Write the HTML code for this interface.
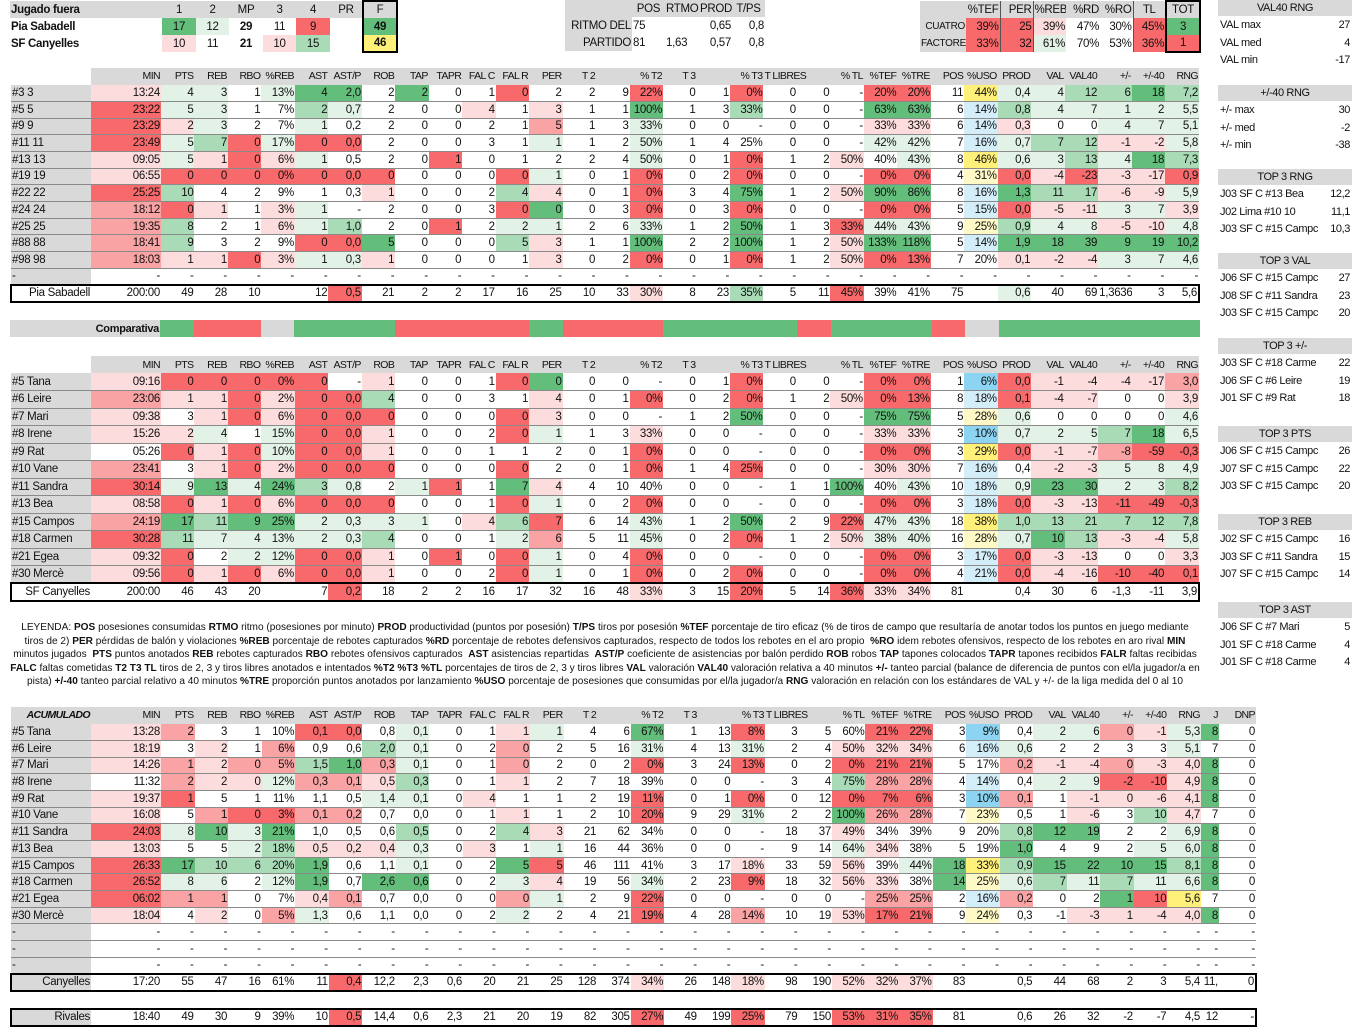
<!DOCTYPE html>
<html><head><meta charset="utf-8"><style>
body{margin:0;width:1366px;height:1025px;background:#fff;position:relative;overflow:hidden;font-family:"Liberation Sans Narrow","Liberation Sans",sans-serif;font-size:11.5px;color:#111;letter-spacing:-0.3px}
table{border-collapse:collapse;table-layout:fixed;position:absolute}
td{padding:0 1px;text-align:right;white-space:nowrap;overflow:hidden;line-height:14px}
.t tr{height:16.7px}
.t tr td{border-bottom:1px solid #8a8a8a}
.t tr td:first-child{text-align:left;background:#d9d9d9}
.t tr.h td{background:#d9d9d9;border-bottom:none;text-align:right;font-size:10.5px;letter-spacing:-0.6px}
.t tr.h td:first-child{background:#fff}
.t tr.tot{border:2px solid #000}
.t tr.tot td:first-child{text-align:right;background:#fff}
.G{background:#63be7b}.g{background:#a9dbb7}.l{background:#e2f2e6}
.R{background:#f8696b}.r{background:#f9a3a5}.p{background:#fcdcdd}
.Y{background:#fff07a}.y{background:#fff9c8}.B{background:#8dd4f2}.b{background:#d4eef9}
.gr{background:#d9d9d9}
.rp{position:absolute;left:1218px;width:134px;font-size:11px;letter-spacing:-0.4px}
.rp .hd{background:#d9d9d9;text-align:center;height:16px;line-height:16px;margin-bottom:1px}
.rp .rw{height:17.5px;line-height:17.5px;display:flex;justify-content:space-between;padding:0 2px;white-space:nowrap;overflow:hidden}
.leg{position:absolute;left:10px;width:1190px;top:621px;text-align:center;font-size:10.1px;line-height:13.5px;white-space:nowrap;letter-spacing:0;font-family:"Liberation Sans Narrow","Liberation Sans",sans-serif}
</style></head><body>

<table style="left:10px;top:0;width:387px">
<colgroup><col style="width:152px"><col style="width:34px"><col style="width:33px"><col style="width:34px"><col style="width:33px"><col style="width:34px"><col style="width:33px"><col style="width:34px"></colgroup>
<tr style="height:17px" class="gr"><td style="text-align:left;font-weight:bold">Jugado fuera</td><td style="text-align:center">1</td><td style="text-align:center">2</td><td style="text-align:center">MP</td><td style="text-align:center">3</td><td style="text-align:center">4</td><td style="text-align:center">PR</td><td style="text-align:center;border:2px solid #000;border-bottom:none">F</td></tr>
<tr style="height:17px"><td style="text-align:left;font-weight:bold">Pia Sabadell</td><td class="G" style="text-align:center">17</td><td class="l" style="text-align:center">12</td><td style="text-align:center;font-weight:bold">29</td><td style="text-align:center">11</td><td class="R" style="text-align:center">9</td><td></td><td class="G" style="text-align:center;font-weight:bold;border-left:2px solid #000;border-right:2px solid #000">49</td></tr>
<tr style="height:17px"><td style="text-align:left;font-weight:bold">SF Canyelles</td><td class="p" style="text-align:center">10</td><td style="text-align:center">11</td><td style="text-align:center;font-weight:bold">21</td><td class="p" style="text-align:center">10</td><td class="g" style="text-align:center">15</td><td></td><td class="Y" style="text-align:center;font-weight:bold;border:2px solid #000;border-top:none">46</td></tr>
</table>

<table style="left:565px;top:0;width:200px">
<colgroup><col style="width:67px"><col style="width:33px"><col style="width:34px"><col style="width:33px"><col style="width:33px"></colgroup>
<tr style="height:17px" class="gr"><td></td><td style="text-align:center">POS</td><td style="text-align:center">RTMO</td><td style="text-align:center">PROD</td><td style="text-align:center">T/PS</td></tr>
<tr style="height:17px"><td class="gr">RITMO DEL</td><td style="text-align:left">75</td><td></td><td>0,65</td><td>0,8</td></tr>
<tr style="height:17px"><td class="gr">PARTIDO</td><td style="text-align:left">81</td><td style="text-align:left">1,63</td><td>0,57</td><td>0,8</td></tr>
</table>

<table style="left:920px;top:0;width:280px">
<colgroup><col style="width:46px"><col style="width:34px"><col style="width:33px"><col style="width:33px"><col style="width:34px"><col style="width:33px"><col style="width:33px"><col style="width:34px"></colgroup>
<tr style="height:17px" class="gr"><td></td><td style="border-right:1px solid #555">%TEF</td><td style="border-right:1px solid #555">PER</td><td>%REB</td><td>%RD</td><td>%RO</td><td style="text-align:center;border-left:1px solid #555">TL</td><td style="text-align:center;border:2px solid #000;border-bottom:none">TOT</td></tr>
<tr style="height:17px"><td class="gr" style="font-size:10px">CUATRO</td><td class="R" style="border-right:1px solid #555">39%</td><td class="R" style="border-right:1px solid #555">25</td><td class="p">39%</td><td>47%</td><td>30%</td><td class="R" style="border-left:1px solid #555">45%</td><td class="G" style="text-align:center;border-left:2px solid #000;border-right:2px solid #000">3</td></tr>
<tr style="height:17px"><td class="gr" style="font-size:10px">FACTORES</td><td class="R" style="border-right:1px solid #555">33%</td><td class="R" style="border-right:1px solid #555">32</td><td class="l">61%</td><td>70%</td><td>53%</td><td class="R" style="border-left:1px solid #555">36%</td><td class="R" style="text-align:center;border:2px solid #000;border-top:none">1</td></tr>
</table>

<div class="rp" style="top:0"><div class="hd">VAL40 RNG</div><div class="rw"><span>VAL max</span><span>27</span></div><div class="rw"><span>VAL med</span><span>4</span></div><div class="rw"><span>VAL min</span><span>-17</span></div></div>
<div class="rp" style="top:85px"><div class="hd">+/-40 RNG</div><div class="rw"><span>+/- max</span><span>30</span></div><div class="rw"><span>+/- med</span><span>-2</span></div><div class="rw"><span>+/- min</span><span>-38</span></div></div>
<div class="rp" style="top:169px"><div class="hd">TOP 3 RNG</div><div class="rw"><span>J03 SF C #13 Bea</span><span>12,2</span></div><div class="rw"><span>J02 Lima #10 10</span><span>11,1</span></div><div class="rw"><span>J03 SF C #15 Campc</span><span>10,3</span></div></div>
<div class="rp" style="top:253px"><div class="hd">TOP 3 VAL</div><div class="rw"><span>J06 SF C #15 Campc</span><span>27</span></div><div class="rw"><span>J08 SF C #11 Sandra</span><span>23</span></div><div class="rw"><span>J03 SF C #15 Campc</span><span>20</span></div></div>
<div class="rp" style="top:338px"><div class="hd">TOP 3 +/-</div><div class="rw"><span>J03 SF C #18 Carme</span><span>22</span></div><div class="rw"><span>J06 SF C #6 Leire</span><span>19</span></div><div class="rw"><span>J01 SF C #9 Rat</span><span>18</span></div></div>
<div class="rp" style="top:426px"><div class="hd">TOP 3 PTS</div><div class="rw"><span>J06 SF C #15 Campc</span><span>26</span></div><div class="rw"><span>J07 SF C #15 Campc</span><span>22</span></div><div class="rw"><span>J03 SF C #15 Campc</span><span>20</span></div></div>
<div class="rp" style="top:514px"><div class="hd">TOP 3 REB</div><div class="rw"><span>J02 SF C #15 Campc</span><span>16</span></div><div class="rw"><span>J03 SF C #11 Sandra</span><span>15</span></div><div class="rw"><span>J07 SF C #15 Campc</span><span>14</span></div></div>
<div class="rp" style="top:602px"><div class="hd">TOP 3 AST</div><div class="rw"><span>J06 SF C #7 Mari</span><span>5</span></div><div class="rw"><span>J01 SF C #18 Carme</span><span>4</span></div><div class="rw"><span>J01 SF C #18 Carme</span><span>4</span></div></div>

<table class="t" style="left:10px;top:68px;width:1190px">
<colgroup><col style="width:80px"><col style="width:70px"></colgroup>
<tr class="h"><td></td><td>MIN</td><td>PTS</td><td>REB</td><td>RBO</td><td>%REB</td><td>AST</td><td>AST/P</td><td>ROB</td><td>TAP</td><td>TAPR</td><td>FAL C</td><td>FAL R</td><td>PER</td><td>T 2</td><td></td><td>% T2</td><td>T 3</td><td></td><td>% T3</td><td style="overflow:visible">T LIBRES</td><td></td><td>% TL</td><td>%TEF</td><td>%TRE</td><td>POS</td><td>%USO</td><td>PROD</td><td>VAL</td><td>VAL40</td><td>+/-</td><td>+/-40</td><td>RNG</td></tr>
<tr><td>#3 3</td><td class="p">13:24</td><td class="l">4</td><td class="l">3</td><td>1</td><td class="l">13%</td><td class="G">4</td><td class="G">2,0</td><td>2</td><td class="G">2</td><td>0</td><td>1</td><td class="R">0</td><td>2</td><td>2</td><td>9</td><td class="R">22%</td><td>0</td><td>1</td><td class="R">0%</td><td>0</td><td>0</td><td>-</td><td class="R">20%</td><td class="R">20%</td><td>11</td><td class="Y">44%</td><td class="l">0,4</td><td class="l">4</td><td class="g">12</td><td class="g">6</td><td class="G">18</td><td class="g">7,2</td></tr>
<tr><td>#5 5</td><td class="R">23:22</td><td class="l">5</td><td class="l">3</td><td>1</td><td>7%</td><td class="g">2</td><td class="l">0,7</td><td>2</td><td>0</td><td>0</td><td class="p">4</td><td>1</td><td class="p">3</td><td>1</td><td>1</td><td class="G">100%</td><td>1</td><td>3</td><td class="g">33%</td><td>0</td><td>0</td><td>-</td><td class="G">63%</td><td class="G">63%</td><td>6</td><td class="b">14%</td><td class="g">0,8</td><td class="l">4</td><td class="l">7</td><td class="l">1</td><td class="l">2</td><td class="l">5,5</td></tr>
<tr><td>#9 9</td><td class="R">23:29</td><td class="p">2</td><td class="l">3</td><td>2</td><td>7%</td><td class="l">1</td><td>0,2</td><td>2</td><td>0</td><td>0</td><td>2</td><td>1</td><td class="r">5</td><td>1</td><td>3</td><td class="l">33%</td><td>0</td><td>0</td><td>-</td><td>0</td><td>0</td><td>-</td><td class="p">33%</td><td class="p">33%</td><td>6</td><td class="b">14%</td><td class="p">0,3</td><td>0</td><td>0</td><td class="l">4</td><td class="l">7</td><td class="l">5,1</td></tr>
<tr><td>#11 11</td><td class="R">23:49</td><td class="l">5</td><td class="g">7</td><td class="R">0</td><td class="l">17%</td><td class="R">0</td><td class="R">0,0</td><td>2</td><td>0</td><td>0</td><td>3</td><td>1</td><td class="l">1</td><td>1</td><td>2</td><td class="l">50%</td><td>1</td><td>4</td><td>25%</td><td>0</td><td>0</td><td>-</td><td class="l">42%</td><td class="l">42%</td><td>7</td><td class="b">16%</td><td class="l">0,7</td><td class="g">7</td><td class="g">12</td><td class="p">-1</td><td class="p">-2</td><td class="l">5,8</td></tr>
<tr><td>#13 13</td><td class="p">09:05</td><td class="l">5</td><td class="p">1</td><td class="R">0</td><td class="p">6%</td><td class="l">1</td><td>0,5</td><td>2</td><td>0</td><td class="R">1</td><td>0</td><td>1</td><td>2</td><td>2</td><td>4</td><td class="l">50%</td><td>0</td><td>1</td><td class="R">0%</td><td>1</td><td>2</td><td class="p">50%</td><td>40%</td><td class="l">43%</td><td>8</td><td class="Y">46%</td><td class="l">0,6</td><td class="l">3</td><td class="g">13</td><td class="l">4</td><td class="G">18</td><td class="g">7,3</td></tr>
<tr><td>#19 19</td><td class="p">06:55</td><td class="R">0</td><td class="R">0</td><td class="R">0</td><td class="R">0%</td><td class="R">0</td><td class="R">0,0</td><td class="R">0</td><td>0</td><td>0</td><td>0</td><td class="R">0</td><td class="l">1</td><td>0</td><td>1</td><td class="R">0%</td><td>0</td><td>2</td><td class="R">0%</td><td>0</td><td>0</td><td>-</td><td class="R">0%</td><td class="R">0%</td><td>4</td><td class="y">31%</td><td class="R">0,0</td><td class="p">-4</td><td class="R">-23</td><td class="p">-3</td><td class="p">-17</td><td class="R">0,9</td></tr>
<tr><td>#22 22</td><td class="R">25:25</td><td class="g">10</td><td>4</td><td>2</td><td>9%</td><td>1</td><td>0,3</td><td class="p">1</td><td>0</td><td>0</td><td>2</td><td class="g">4</td><td class="p">4</td><td>0</td><td>1</td><td class="R">0%</td><td>3</td><td>4</td><td class="G">75%</td><td>1</td><td>2</td><td class="p">50%</td><td class="G">90%</td><td class="G">86%</td><td>8</td><td class="b">16%</td><td class="G">1,3</td><td class="g">11</td><td class="g">17</td><td class="p">-6</td><td class="p">-9</td><td class="l">5,9</td></tr>
<tr><td>#24 24</td><td class="r">18:12</td><td class="R">0</td><td class="p">1</td><td>1</td><td class="p">3%</td><td class="l">1</td><td>-</td><td>2</td><td>0</td><td>0</td><td>3</td><td class="R">0</td><td class="G">0</td><td>0</td><td>3</td><td class="R">0%</td><td>0</td><td>3</td><td class="R">0%</td><td>0</td><td>0</td><td>-</td><td class="R">0%</td><td class="R">0%</td><td>5</td><td class="b">15%</td><td class="R">0,0</td><td class="p">-5</td><td class="p">-11</td><td class="l">3</td><td class="l">7</td><td class="p">3,9</td></tr>
<tr><td>#25 25</td><td class="r">19:35</td><td class="g">8</td><td>2</td><td>1</td><td class="p">6%</td><td class="l">1</td><td class="g">1,0</td><td>2</td><td>0</td><td class="R">1</td><td>2</td><td class="l">2</td><td class="l">1</td><td>2</td><td>6</td><td class="l">33%</td><td>1</td><td>2</td><td class="G">50%</td><td>1</td><td>3</td><td class="R">33%</td><td class="l">44%</td><td class="l">43%</td><td>9</td><td class="y">25%</td><td class="g">0,9</td><td class="l">4</td><td class="l">8</td><td class="p">-5</td><td class="p">-10</td><td class="l">4,8</td></tr>
<tr><td>#88 88</td><td class="r">18:41</td><td class="g">9</td><td>3</td><td>2</td><td>9%</td><td class="R">0</td><td class="R">0,0</td><td class="G">5</td><td>0</td><td>0</td><td>0</td><td class="g">5</td><td class="p">3</td><td>1</td><td>1</td><td class="G">100%</td><td>2</td><td>2</td><td class="G">100%</td><td>1</td><td>2</td><td class="p">50%</td><td class="G">133%</td><td class="G">118%</td><td>5</td><td class="b">14%</td><td class="G">1,9</td><td class="G">18</td><td class="G">39</td><td class="G">9</td><td class="G">19</td><td class="G">10,2</td></tr>
<tr><td>#98 98</td><td class="r">18:03</td><td class="p">1</td><td class="p">1</td><td class="R">0</td><td class="p">3%</td><td class="l">1</td><td class="l">0,3</td><td class="p">1</td><td>0</td><td>0</td><td>0</td><td>1</td><td class="p">3</td><td>0</td><td>2</td><td class="R">0%</td><td>0</td><td>1</td><td class="R">0%</td><td>1</td><td>2</td><td class="p">50%</td><td class="R">0%</td><td class="R">13%</td><td>7</td><td>20%</td><td class="p">0,1</td><td class="p">-2</td><td class="p">-4</td><td class="l">3</td><td class="l">7</td><td class="l">4,6</td></tr>
<tr><td>-</td><td>-</td><td>-</td><td>-</td><td>-</td><td>-</td><td>-</td><td>-</td><td>-</td><td>-</td><td>-</td><td>-</td><td>-</td><td>-</td><td>-</td><td>-</td><td>-</td><td>-</td><td>-</td><td>-</td><td>-</td><td>-</td><td>-</td><td>-</td><td>-</td><td>-</td><td>-</td><td>-</td><td>-</td><td>-</td><td>-</td><td>-</td><td>-</td></tr>
<tr class="tot"><td>Pia Sabadell</td><td>200:00</td><td>49</td><td>28</td><td>10</td><td></td><td>12</td><td class="R">0,5</td><td>21</td><td>2</td><td>2</td><td>17</td><td>16</td><td>25</td><td>10</td><td>33</td><td class="p">30%</td><td>8</td><td>23</td><td class="g">35%</td><td>5</td><td>11</td><td class="R">45%</td><td>39%</td><td>41%</td><td>75</td><td></td><td class="l">0,6</td><td>40</td><td>69</td><td>1,3636</td><td>3</td><td>5,6</td></tr>
</table>

<table style="left:10px;top:320px;width:1190px;height:17px">
<colgroup><col style="width:80px"><col style="width:70px"></colgroup>
<tr><td class="gr" colspan="2" style="font-weight:bold;font-size:11px">Comparativa</td><td class="G"></td><td class="R"></td><td class="R"></td><td class="gr"></td><td class="G"></td><td class="G"></td><td class="G"></td><td class="R"></td><td class="R"></td><td class="R"></td><td class="R"></td><td class="G"></td><td class="R"></td><td class="R"></td><td class="R"></td><td class="G"></td><td class="G"></td><td class="G"></td><td class="G"></td><td class="R"></td><td class="G"></td><td class="G"></td><td class="G"></td><td class="R"></td><td class="gr"></td><td class="G"></td><td class="G"></td><td class="G"></td><td class="G"></td><td class="G"></td><td class="G"></td></tr>
</table>

<table class="t" style="left:10px;top:356px;width:1190px">
<colgroup><col style="width:80px"><col style="width:70px"></colgroup>
<tr class="h" style="height:17px"><td></td><td>MIN</td><td>PTS</td><td>REB</td><td>RBO</td><td>%REB</td><td>AST</td><td>AST/P</td><td>ROB</td><td>TAP</td><td>TAPR</td><td>FAL C</td><td>FAL R</td><td>PER</td><td>T 2</td><td></td><td>% T2</td><td>T 3</td><td></td><td>% T3</td><td style="overflow:visible">T LIBRES</td><td></td><td>% TL</td><td>%TEF</td><td>%TRE</td><td>POS</td><td>%USO</td><td>PROD</td><td>VAL</td><td>VAL40</td><td>+/-</td><td>+/-40</td><td>RNG</td></tr>
<tr style="height:17.5px"><td>#5 Tana</td><td class="p">09:16</td><td class="R">0</td><td class="R">0</td><td class="R">0</td><td class="R">0%</td><td class="R">0</td><td>-</td><td class="p">1</td><td>0</td><td>0</td><td>1</td><td class="R">0</td><td class="G">0</td><td>0</td><td>0</td><td>-</td><td>0</td><td>1</td><td class="R">0%</td><td>0</td><td>0</td><td>-</td><td class="R">0%</td><td class="R">0%</td><td>1</td><td class="B">6%</td><td class="R">0,0</td><td class="p">-1</td><td class="p">-4</td><td class="p">-4</td><td class="p">-17</td><td class="r">3,0</td></tr>
<tr style="height:17.5px"><td>#6 Leire</td><td class="r">23:06</td><td class="p">1</td><td class="p">1</td><td class="R">0</td><td class="p">2%</td><td class="R">0</td><td class="R">0,0</td><td class="g">4</td><td>0</td><td>0</td><td>3</td><td>1</td><td class="p">4</td><td>0</td><td>1</td><td class="R">0%</td><td>0</td><td>2</td><td class="R">0%</td><td>1</td><td>2</td><td class="p">50%</td><td class="R">0%</td><td class="R">13%</td><td>8</td><td class="b">18%</td><td class="R">0,1</td><td class="p">-4</td><td class="p">-7</td><td>0</td><td>0</td><td class="p">3,9</td></tr>
<tr style="height:17.5px"><td>#7 Mari</td><td class="p">09:38</td><td>3</td><td class="p">1</td><td class="R">0</td><td class="p">6%</td><td class="R">0</td><td class="R">0,0</td><td class="R">0</td><td>0</td><td>0</td><td>0</td><td class="R">0</td><td class="p">3</td><td>0</td><td>0</td><td>-</td><td>1</td><td>2</td><td class="G">50%</td><td>0</td><td>0</td><td>-</td><td class="G">75%</td><td class="G">75%</td><td>5</td><td class="y">28%</td><td class="l">0,6</td><td>0</td><td>0</td><td>0</td><td>0</td><td class="l">4,6</td></tr>
<tr style="height:17.5px"><td>#8 Irene</td><td class="p">15:26</td><td class="p">2</td><td class="l">4</td><td>1</td><td class="l">15%</td><td class="R">0</td><td class="R">0,0</td><td class="p">1</td><td>0</td><td>0</td><td>2</td><td class="R">0</td><td class="l">1</td><td>1</td><td>3</td><td class="p">33%</td><td>0</td><td>0</td><td>-</td><td>0</td><td>0</td><td>-</td><td class="p">33%</td><td class="p">33%</td><td>3</td><td class="B">10%</td><td class="l">0,7</td><td class="l">2</td><td class="l">5</td><td class="g">7</td><td class="G">18</td><td class="l">6,5</td></tr>
<tr style="height:17.5px"><td>#9 Rat</td><td>05:26</td><td class="R">0</td><td class="p">1</td><td class="R">0</td><td class="l">10%</td><td class="R">0</td><td class="R">0,0</td><td class="p">1</td><td>0</td><td>0</td><td>1</td><td>1</td><td>2</td><td>0</td><td>1</td><td class="R">0%</td><td>0</td><td>0</td><td>-</td><td>0</td><td>0</td><td>-</td><td class="R">0%</td><td class="R">0%</td><td>3</td><td class="Y">29%</td><td class="R">0,0</td><td class="p">-1</td><td class="p">-7</td><td class="r">-8</td><td class="R">-59</td><td class="R">-0,3</td></tr>
<tr style="height:17.5px"><td>#10 Vane</td><td class="r">23:41</td><td>3</td><td class="p">1</td><td class="R">0</td><td class="p">2%</td><td class="R">0</td><td class="R">0,0</td><td class="R">0</td><td>0</td><td>0</td><td>0</td><td class="R">0</td><td>2</td><td>0</td><td>1</td><td class="R">0%</td><td>1</td><td>4</td><td class="R">25%</td><td>0</td><td>0</td><td>-</td><td class="p">30%</td><td class="p">30%</td><td>7</td><td class="b">16%</td><td>0,4</td><td class="p">-2</td><td class="p">-3</td><td class="l">5</td><td class="l">8</td><td class="l">4,9</td></tr>
<tr style="height:17.5px"><td>#11 Sandra</td><td class="R">30:14</td><td class="l">9</td><td class="G">13</td><td class="l">4</td><td class="G">24%</td><td class="g">3</td><td class="l">0,8</td><td>2</td><td class="l">1</td><td class="R">1</td><td>1</td><td class="G">7</td><td class="p">4</td><td>4</td><td>10</td><td>40%</td><td>0</td><td>0</td><td>-</td><td>1</td><td>1</td><td class="G">100%</td><td>40%</td><td class="l">43%</td><td>10</td><td class="b">18%</td><td class="l">0,9</td><td class="G">23</td><td class="G">30</td><td class="l">2</td><td class="l">3</td><td class="g">8,2</td></tr>
<tr style="height:17.5px"><td>#13 Bea</td><td class="p">08:58</td><td class="R">0</td><td class="p">1</td><td class="R">0</td><td class="p">6%</td><td class="R">0</td><td class="R">0,0</td><td class="R">0</td><td>0</td><td>0</td><td>1</td><td class="R">0</td><td class="l">1</td><td>0</td><td>2</td><td class="R">0%</td><td>0</td><td>0</td><td>-</td><td>0</td><td>0</td><td>-</td><td class="R">0%</td><td class="R">0%</td><td>3</td><td class="b">18%</td><td class="R">0,0</td><td class="p">-3</td><td class="p">-13</td><td class="R">-11</td><td class="R">-49</td><td class="R">-0,3</td></tr>
<tr style="height:17.5px"><td>#15 Campos</td><td class="r">24:19</td><td class="G">17</td><td class="g">11</td><td class="G">9</td><td class="G">25%</td><td class="l">2</td><td class="l">0,3</td><td class="l">3</td><td class="l">1</td><td>0</td><td class="p">4</td><td class="g">6</td><td class="R">7</td><td>6</td><td>14</td><td class="l">43%</td><td>1</td><td>2</td><td class="G">50%</td><td>2</td><td>9</td><td class="R">22%</td><td class="l">47%</td><td class="l">43%</td><td>18</td><td class="Y">38%</td><td class="g">1,0</td><td class="g">13</td><td class="g">21</td><td class="g">7</td><td class="g">12</td><td class="g">7,8</td></tr>
<tr style="height:17.5px"><td>#18 Carmen</td><td class="R">30:28</td><td class="g">11</td><td class="l">7</td><td class="l">4</td><td class="l">13%</td><td class="l">2</td><td class="l">0,3</td><td class="g">4</td><td>0</td><td>0</td><td>1</td><td class="l">2</td><td class="r">6</td><td>5</td><td>11</td><td class="l">45%</td><td>0</td><td>2</td><td class="R">0%</td><td>1</td><td>2</td><td class="p">50%</td><td class="l">38%</td><td class="l">40%</td><td>16</td><td class="y">28%</td><td class="l">0,7</td><td class="G">10</td><td class="g">13</td><td class="p">-3</td><td class="p">-4</td><td class="l">5,8</td></tr>
<tr style="height:17.5px"><td>#21 Egea</td><td class="p">09:32</td><td class="R">0</td><td>2</td><td class="l">2</td><td class="l">12%</td><td class="R">0</td><td class="R">0,0</td><td class="p">1</td><td>0</td><td class="R">1</td><td>0</td><td class="R">0</td><td class="l">1</td><td>0</td><td>4</td><td class="R">0%</td><td>0</td><td>0</td><td>-</td><td>0</td><td>0</td><td>-</td><td class="R">0%</td><td class="R">0%</td><td>3</td><td class="b">17%</td><td class="R">0,0</td><td class="p">-3</td><td class="p">-13</td><td>0</td><td>0</td><td class="p">3,3</td></tr>
<tr style="height:17.5px"><td>#30 Mercè</td><td class="p">09:56</td><td class="R">0</td><td class="p">1</td><td class="R">0</td><td class="p">6%</td><td class="R">0</td><td class="R">0,0</td><td class="p">1</td><td>0</td><td>0</td><td>2</td><td class="R">0</td><td class="l">1</td><td>0</td><td>1</td><td class="R">0%</td><td>0</td><td>2</td><td class="R">0%</td><td>0</td><td>0</td><td>-</td><td class="R">0%</td><td class="R">0%</td><td>4</td><td class="b">21%</td><td class="R">0,0</td><td class="p">-4</td><td class="p">-16</td><td class="R">-10</td><td class="R">-40</td><td class="R">0,1</td></tr>
<tr class="tot" style="height:17.5px"><td>SF Canyelles</td><td>200:00</td><td>46</td><td>43</td><td>20</td><td></td><td>7</td><td class="R">0,2</td><td>18</td><td>2</td><td>2</td><td>16</td><td>17</td><td>32</td><td>16</td><td>48</td><td class="p">33%</td><td>3</td><td>15</td><td class="R">20%</td><td>5</td><td>14</td><td class="R">36%</td><td class="p">33%</td><td class="p">34%</td><td>81</td><td></td><td>0,4</td><td>30</td><td>6</td><td>-1,3</td><td>-11</td><td>3,9</td></tr>
</table>

<div class="leg">LEYENDA: <b>POS</b> posesiones consumidas <b>RTMO</b> ritmo (posesiones por minuto) <b>PROD</b> productividad (puntos por posesión) <b>T/PS</b> tiros por posesión <b>%TEF</b> porcentaje de tiro eficaz (% de tiros de campo que resultaría de anotar todos los puntos en juego mediante<br>tiros de 2) <b>PER</b> pérdidas de balón y violaciones <b>%REB</b> porcentaje de rebotes capturados <b>%RD</b> porcentaje de rebotes defensivos capturados, respecto de todos los rebotes en el aro propio &nbsp;<b>%RO</b> idem rebotes ofensivos, respecto de los rebotes en aro rival <b>MIN</b><br>minutos jugados &nbsp;<b>PTS</b> puntos anotados <b>REB</b> rebotes capturados <b>RBO</b> rebotes ofensivos capturados &nbsp;<b>AST</b> asistencias repartidas &nbsp;<b>AST/P</b> coeficiente de asistencias por balón perdido <b>ROB</b> robos <b>TAP</b> tapones colocados <b>TAPR</b> tapones recibidos <b>FALR</b> faltas recibidas<br><b>FALC</b> faltas cometidas <b>T2 T3 TL</b> tiros de 2, 3 y tiros libres anotados e intentados <b>%T2 %T3 %TL</b> porcentajes de tiros de 2, 3 y tiros libres <b>VAL</b> valoración <b>VAL40</b> valoración relativa a 40 minutos <b>+/-</b> tanteo parcial (balance de diferencia de puntos con el/la jugador/a en<br>pista) <b>+/-40</b> tanteo parcial relativo a 40 minutos <b>%TRE</b> proporción puntos anotados por lanzamiento <b>%USO</b> porcentaje de posesiones que consumidas por el/la jugador/a <b>RNG</b> valoración en relación con los estándares de VAL y +/- de la liga medida del 0 al 10</div>

<table class="t" style="left:10px;top:707px;width:1245px">
<colgroup><col style="width:80px"><col style="width:70px"><col span="31" style="width:33.55px"><col style="width:18px"><col style="width:37px"></colgroup>
<tr class="h"><td style="background:#d9d9d9;font-weight:bold;font-style:italic">ACUMULADO</td><td>MIN</td><td>PTS</td><td>REB</td><td>RBO</td><td>%REB</td><td>AST</td><td>AST/P</td><td>ROB</td><td>TAP</td><td>TAPR</td><td>FAL C</td><td>FAL R</td><td>PER</td><td>T 2</td><td></td><td>% T2</td><td>T 3</td><td></td><td>% T3</td><td style="overflow:visible">T LIBRES</td><td></td><td>% TL</td><td>%TEF</td><td>%TRE</td><td>POS</td><td>%USO</td><td>PROD</td><td>VAL</td><td>VAL40</td><td>+/-</td><td>+/-40</td><td>RNG</td><td>J</td><td>DNP</td></tr>
<tr><td>#5 Tana</td><td class="p">13:28</td><td class="r">2</td><td>3</td><td>1</td><td>10%</td><td class="R">0,1</td><td class="R">0,0</td><td>0,8</td><td class="l">0,1</td><td>0</td><td>1</td><td class="p">1</td><td class="l">1</td><td>4</td><td>6</td><td class="G">67%</td><td>1</td><td>13</td><td class="R">8%</td><td>3</td><td>5</td><td>60%</td><td class="R">21%</td><td class="R">22%</td><td>3</td><td class="B">9%</td><td>0,4</td><td class="l">2</td><td class="l">6</td><td class="r">0</td><td class="p">-1</td><td class="l">5,3</td><td class="G">8</td><td>0</td></tr>
<tr><td>#6 Leire</td><td class="p">18:19</td><td>3</td><td class="p">2</td><td>1</td><td class="r">6%</td><td>0,9</td><td>0,6</td><td class="g">2,0</td><td class="l">0,1</td><td>0</td><td>2</td><td class="r">0</td><td>2</td><td>5</td><td>16</td><td class="l">31%</td><td>4</td><td>13</td><td class="l">31%</td><td>2</td><td>4</td><td class="p">50%</td><td class="p">32%</td><td class="p">34%</td><td>6</td><td class="b">16%</td><td class="l">0,6</td><td>2</td><td>2</td><td>3</td><td>3</td><td class="l">5,1</td><td>7</td><td>0</td></tr>
<tr><td>#7 Mari</td><td class="p">14:26</td><td class="r">1</td><td class="p">2</td><td class="r">0</td><td class="r">5%</td><td class="g">1,5</td><td class="G">1,0</td><td class="r">0,3</td><td class="l">0,1</td><td>0</td><td>1</td><td class="r">0</td><td>2</td><td>0</td><td>2</td><td class="R">0%</td><td>3</td><td>24</td><td class="R">13%</td><td>0</td><td>2</td><td class="R">0%</td><td class="R">21%</td><td class="R">21%</td><td>5</td><td>17%</td><td class="r">0,2</td><td class="p">-1</td><td class="p">-4</td><td class="r">0</td><td class="p">-3</td><td class="p">4,0</td><td class="G">8</td><td>0</td></tr>
<tr><td>#8 Irene</td><td>11:32</td><td class="r">2</td><td class="p">2</td><td class="p">0</td><td class="l">12%</td><td class="r">0,3</td><td class="r">0,1</td><td class="p">0,5</td><td class="g">0,3</td><td>0</td><td>1</td><td class="p">1</td><td>2</td><td>7</td><td>18</td><td>39%</td><td>0</td><td>0</td><td>-</td><td>3</td><td>4</td><td class="g">75%</td><td class="r">28%</td><td class="r">28%</td><td>4</td><td class="b">14%</td><td>0,4</td><td class="l">2</td><td class="l">9</td><td class="R">-2</td><td class="R">-10</td><td class="p">4,9</td><td class="G">8</td><td>0</td></tr>
<tr><td>#9 Rat</td><td class="p">19:37</td><td class="R">1</td><td>5</td><td>1</td><td>11%</td><td>1,1</td><td>0,5</td><td class="l">1,4</td><td class="l">0,1</td><td>0</td><td class="p">4</td><td>1</td><td>1</td><td>2</td><td>19</td><td class="R">11%</td><td>0</td><td>1</td><td class="R">0%</td><td>0</td><td>12</td><td class="R">0%</td><td class="R">7%</td><td class="R">6%</td><td>3</td><td class="B">10%</td><td class="r">0,1</td><td>1</td><td class="p">-1</td><td class="p">0</td><td class="p">-6</td><td class="p">4,1</td><td class="G">8</td><td>0</td></tr>
<tr><td>#10 Vane</td><td class="p">16:08</td><td>5</td><td class="r">1</td><td class="R">0</td><td class="R">3%</td><td class="r">0,1</td><td class="r">0,2</td><td>0,7</td><td>0,0</td><td>0</td><td>1</td><td class="p">1</td><td>1</td><td>2</td><td>10</td><td class="R">20%</td><td>9</td><td>29</td><td class="l">31%</td><td>2</td><td>2</td><td class="G">100%</td><td class="r">26%</td><td class="r">28%</td><td>7</td><td class="y">23%</td><td>0,5</td><td>1</td><td class="p">-6</td><td>3</td><td class="g">10</td><td class="p">4,7</td><td>7</td><td>0</td></tr>
<tr><td>#11 Sandra</td><td class="R">24:03</td><td class="l">8</td><td class="G">10</td><td class="l">3</td><td class="G">21%</td><td>1,0</td><td>0,5</td><td>0,6</td><td class="g">0,5</td><td>0</td><td>2</td><td class="g">4</td><td class="p">3</td><td>21</td><td>62</td><td>34%</td><td>0</td><td>0</td><td>-</td><td>18</td><td>37</td><td class="p">49%</td><td>34%</td><td>39%</td><td>9</td><td>20%</td><td class="g">0,8</td><td class="G">12</td><td class="G">19</td><td>2</td><td>2</td><td class="l">6,9</td><td class="G">8</td><td>0</td></tr>
<tr><td>#13 Bea</td><td class="p">13:03</td><td>5</td><td>5</td><td class="l">2</td><td class="g">18%</td><td class="p">0,5</td><td class="p">0,2</td><td class="p">0,4</td><td class="l">0,3</td><td>0</td><td class="p">3</td><td>1</td><td class="l">1</td><td>16</td><td>44</td><td>36%</td><td>0</td><td>0</td><td>-</td><td>9</td><td>14</td><td class="l">64%</td><td class="p">34%</td><td>38%</td><td>5</td><td>19%</td><td class="G">1,0</td><td>4</td><td>9</td><td>2</td><td class="l">5</td><td class="l">6,0</td><td class="G">8</td><td>0</td></tr>
<tr><td>#15 Campos</td><td class="R">26:33</td><td class="G">17</td><td class="g">10</td><td class="g">6</td><td class="g">20%</td><td class="G">1,9</td><td>0,6</td><td>1,1</td><td class="l">0,1</td><td>0</td><td>2</td><td class="G">5</td><td class="R">5</td><td>46</td><td>111</td><td>41%</td><td>3</td><td>17</td><td class="p">18%</td><td>33</td><td>59</td><td class="p">56%</td><td>39%</td><td class="l">44%</td><td class="G">18</td><td class="Y">33%</td><td class="g">0,9</td><td class="G">15</td><td class="G">22</td><td class="G">10</td><td class="G">15</td><td class="g">8,1</td><td class="G">8</td><td>0</td></tr>
<tr><td>#18 Carmen</td><td class="R">26:52</td><td class="l">8</td><td class="l">6</td><td>2</td><td class="l">12%</td><td class="G">1,9</td><td>0,7</td><td class="G">2,6</td><td class="G">0,6</td><td>0</td><td>2</td><td class="l">3</td><td class="p">4</td><td>19</td><td>56</td><td class="l">34%</td><td>2</td><td>23</td><td class="R">9%</td><td>18</td><td>32</td><td class="p">56%</td><td class="p">33%</td><td>38%</td><td class="G">14</td><td class="y">25%</td><td class="l">0,6</td><td class="g">7</td><td class="l">11</td><td class="g">7</td><td class="l">11</td><td class="l">6,6</td><td class="G">8</td><td>0</td></tr>
<tr><td>#21 Egea</td><td class="R">06:02</td><td class="r">1</td><td class="r">1</td><td>0</td><td>7%</td><td class="p">0,4</td><td class="r">0,1</td><td>0,7</td><td>0,0</td><td>0</td><td>0</td><td class="r">0</td><td class="l">1</td><td>2</td><td>9</td><td class="R">22%</td><td>0</td><td>0</td><td>-</td><td>0</td><td>0</td><td>-</td><td class="r">25%</td><td class="r">25%</td><td>2</td><td class="b">16%</td><td class="r">0,2</td><td>0</td><td>2</td><td class="G">1</td><td class="R">10</td><td class="Y">5,6</td><td>7</td><td>0</td></tr>
<tr><td>#30 Mercè</td><td class="p">18:04</td><td>4</td><td class="p">2</td><td>0</td><td class="r">5%</td><td class="l">1,3</td><td>0,6</td><td>1,1</td><td>0,0</td><td>0</td><td>2</td><td class="l">2</td><td>2</td><td>4</td><td>21</td><td class="R">19%</td><td>4</td><td>28</td><td class="r">14%</td><td>10</td><td>19</td><td class="p">53%</td><td class="R">17%</td><td class="R">21%</td><td>9</td><td class="y">24%</td><td>0,3</td><td>-1</td><td class="p">-3</td><td class="p">1</td><td class="p">-4</td><td class="p">4,0</td><td class="G">8</td><td>0</td></tr>
<tr><td>-</td><td>-</td><td>-</td><td>-</td><td>-</td><td>-</td><td>-</td><td>-</td><td>-</td><td>-</td><td>-</td><td>-</td><td>-</td><td>-</td><td>-</td><td>-</td><td>-</td><td>-</td><td>-</td><td>-</td><td>-</td><td>-</td><td>-</td><td>-</td><td>-</td><td>-</td><td>-</td><td>-</td><td>-</td><td>-</td><td>-</td><td>-</td><td>-</td><td>-</td><td>-</td></tr>
<tr><td>-</td><td>-</td><td>-</td><td>-</td><td>-</td><td>-</td><td>-</td><td>-</td><td>-</td><td>-</td><td>-</td><td>-</td><td>-</td><td>-</td><td>-</td><td>-</td><td>-</td><td>-</td><td>-</td><td>-</td><td>-</td><td>-</td><td>-</td><td>-</td><td>-</td><td>-</td><td>-</td><td>-</td><td>-</td><td>-</td><td>-</td><td>-</td><td>-</td><td>-</td><td>-</td></tr>
<tr><td>-</td><td>-</td><td>-</td><td>-</td><td>-</td><td>-</td><td>-</td><td>-</td><td>-</td><td>-</td><td>-</td><td>-</td><td>-</td><td>-</td><td>-</td><td>-</td><td>-</td><td>-</td><td>-</td><td>-</td><td>-</td><td>-</td><td>-</td><td>-</td><td>-</td><td>-</td><td>-</td><td>-</td><td>-</td><td>-</td><td>-</td><td>-</td><td>-</td><td>-</td><td>-</td></tr>
<tr class="tot"><td style="background:#d9d9d9">Canyelles</td><td>17:20</td><td>55</td><td>47</td><td>16</td><td>61%</td><td>11</td><td class="R">0,4</td><td>12,2</td><td>2,3</td><td>0,6</td><td>20</td><td>21</td><td>25</td><td>128</td><td>374</td><td class="p">34%</td><td>26</td><td>148</td><td class="p">18%</td><td>98</td><td>190</td><td class="p">52%</td><td class="p">32%</td><td class="p">37%</td><td>83</td><td></td><td>0,5</td><td>44</td><td>68</td><td>2</td><td>3</td><td>5,4</td><td>11,</td><td>0</td></tr>
</table>

<table class="t" style="left:10px;top:1008px;width:1245px">
<colgroup><col style="width:80px"><col style="width:70px"><col span="31" style="width:33.55px"><col style="width:18px"><col style="width:37px"></colgroup>
<tr class="tot"><td style="background:#d9d9d9">Rivales</td><td>18:40</td><td>49</td><td>30</td><td>9</td><td>39%</td><td>10</td><td class="R">0,5</td><td>14,4</td><td>0,6</td><td>2,3</td><td>21</td><td>20</td><td>19</td><td>82</td><td>305</td><td class="R">27%</td><td>49</td><td>199</td><td class="R">25%</td><td>79</td><td>150</td><td class="R">53%</td><td class="R">31%</td><td class="R">35%</td><td>81</td><td></td><td>0,6</td><td>26</td><td>32</td><td>-2</td><td>-7</td><td>4,5</td><td>12</td><td>-</td></tr>
</table>

</body></html>
